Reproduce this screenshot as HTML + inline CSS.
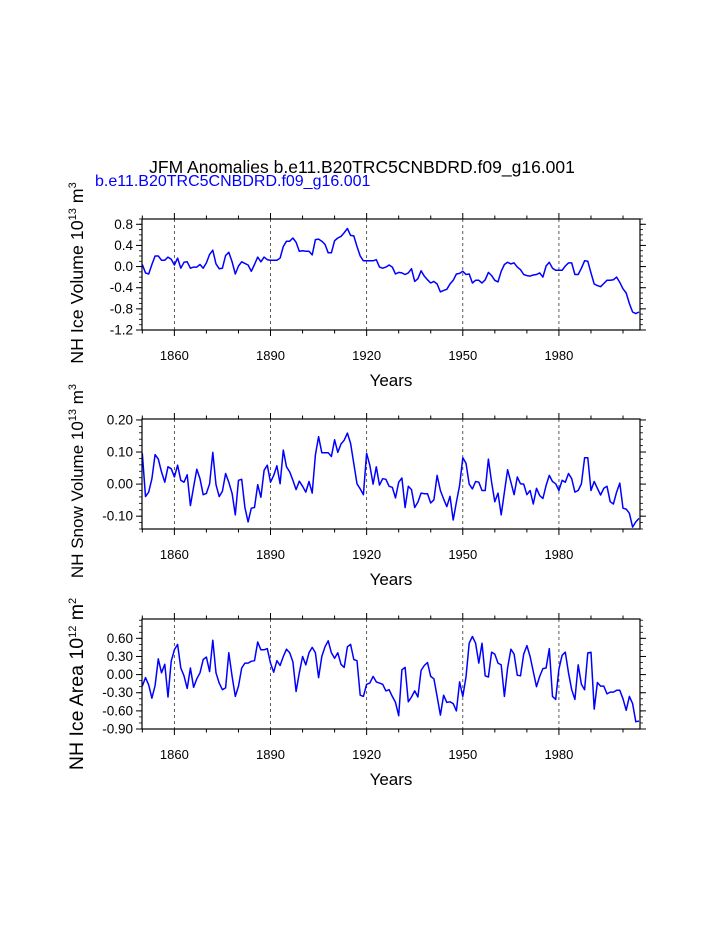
<!DOCTYPE html>
<html><head><meta charset="utf-8">
<style>
html,body{margin:0;padding:0;background:#fff;}
svg{display:block;font-family:"Liberation Sans",Arial,sans-serif;}
</style></head>
<body>
<svg id="chart" width="723" height="935" viewBox="0 0 723 935" xmlns="http://www.w3.org/2000/svg">
<text x="362" y="173" font-size="17.5" text-anchor="middle">JFM Anomalies b.e11.B20TRC5CNBDRD.f09_g16.001</text>
<text x="95" y="186" font-size="16" fill="#0000ff">b.e11.B20TRC5CNBDRD.f09_g16.001</text>
</svg>
<script>
const startYear = 1850;
const majorYears = [1860, 1890, 1920, 1950, 1980];
const iceVolume = [0.04,-0.12,-0.14,0.04,0.2,0.2,0.12,0.12,0.18,0.14,
0.03,0.16,-0.03,0.08,0.09,-0.03,-0.01,-0.01,0.04,-0.03,
0.07,0.23,0.31,0.05,-0.04,-0.03,0.21,0.27,0.09,-0.14,
0.01,0.09,0.06,0.03,-0.09,0.04,0.18,0.09,0.18,0.13,
0.12,0.12,0.12,0.16,0.38,0.48,0.48,0.54,0.46,0.29,
0.3,0.29,0.29,0.22,0.51,0.52,0.48,0.42,0.26,0.26,
0.49,0.54,0.57,0.64,0.72,0.59,0.58,0.38,0.2,0.11,
0.11,0.11,0.11,0.13,-0.01,-0.03,-0.01,0.03,-0.01,-0.14,
-0.11,-0.12,-0.15,-0.12,-0.04,-0.28,-0.23,-0.08,-0.18,-0.25,
-0.31,-0.28,-0.33,-0.48,-0.45,-0.43,-0.33,-0.26,-0.14,-0.13,
-0.09,-0.15,-0.14,-0.31,-0.26,-0.26,-0.31,-0.25,-0.11,-0.17,
-0.26,-0.29,-0.09,0.04,0.08,0.05,0.07,-0.01,-0.06,-0.15,
-0.17,-0.18,-0.16,-0.15,-0.12,-0.2,0.01,0.08,-0.03,-0.07,
-0.07,-0.07,0.01,0.07,0.07,-0.15,-0.15,-0.03,0.11,0.1,
-0.12,-0.33,-0.36,-0.38,-0.32,-0.26,-0.26,-0.25,-0.2,-0.3,
-0.42,-0.5,-0.7,-0.86,-0.89,-0.86];
const snowVolume = [0.096,-0.039,-0.025,0.017,0.092,0.078,0.038,0.006,0.054,0.048,
0.022,0.059,0.012,0.006,0.029,-0.067,-0.009,0.046,0.017,-0.033,
-0.029,0.001,0.099,-0.002,-0.039,-0.022,0.033,0.006,-0.029,-0.096,
0.012,0.015,-0.073,-0.118,-0.075,-0.073,-0.002,-0.041,0.043,0.059,
0.006,0.027,0.057,0.001,0.106,0.054,0.038,0.012,-0.017,0.009,
-0.007,-0.025,0.008,-0.028,0.091,0.148,0.098,0.098,0.098,0.086,
0.138,0.099,0.125,0.137,0.159,0.127,0.064,0.001,-0.015,-0.033,
0.096,0.059,0,0.054,-0.003,0.017,0.015,-0.007,-0.01,-0.043,
0.006,0.019,-0.073,-0.007,-0.017,-0.073,-0.056,-0.028,-0.03,-0.03,
-0.059,-0.049,0.027,-0.02,-0.046,-0.07,-0.038,-0.112,-0.056,-0.004,
0.082,0.065,0,-0.015,0.008,0.006,-0.02,-0.02,0.078,0.006,
-0.055,-0.028,-0.096,-0.025,0.045,0.006,-0.033,0.022,0.001,0,
-0.033,-0.02,-0.062,-0.013,-0.036,-0.045,-0.004,0.027,0.008,0.001,
-0.02,0.012,0.006,0.033,0.017,-0.025,-0.02,0.001,0.082,0.082,
-0.02,0.008,-0.013,-0.034,-0.013,-0.007,-0.055,-0.062,-0.025,0.003,
-0.075,-0.078,-0.091,-0.134,-0.118,-0.107];
const iceArea = [-0.19,-0.05,-0.17,-0.39,-0.18,0.26,0.03,0.17,-0.37,0.22,
0.41,0.5,0.11,-0.02,-0.23,0.11,-0.21,-0.07,0.03,0.25,
0.29,0.05,0.57,0.03,-0.14,-0.25,-0.22,0.36,-0.03,-0.36,
-0.19,0.11,0.19,0.19,0.22,0.23,0.54,0.41,0.41,0.43,
0.19,0.04,0.23,0.15,0.3,0.42,0.36,0.21,-0.28,0.03,
0.3,0.16,0.36,0.45,0.36,-0.05,0.3,0.46,0.56,0.36,
0.27,0.36,0.17,0.12,0.46,0.5,0.25,0.23,-0.34,-0.36,
-0.16,-0.14,-0.03,-0.12,-0.14,-0.16,-0.27,-0.25,-0.36,-0.46,
-0.68,0.08,0.12,-0.45,-0.37,-0.27,-0.37,0.07,0.15,0.2,
-0.03,-0.07,-0.36,-0.67,-0.34,-0.46,-0.45,-0.48,-0.6,-0.12,
-0.36,-0.04,0.52,0.63,0.52,0.19,0.52,-0.02,-0.04,0.37,
0.34,0.19,0.16,-0.36,0.11,0.42,0.34,-0.01,-0.02,0.34,
0.48,0.3,0.05,-0.2,-0.03,0.1,0.11,0.43,-0.36,-0.41,
0.09,0.32,0.37,0.03,-0.25,-0.41,0.16,-0.16,-0.25,0.36,
0.37,-0.57,-0.13,-0.19,-0.19,-0.32,-0.29,-0.29,-0.26,-0.26,
-0.4,-0.59,-0.36,-0.48,-0.78,-0.77];
const iceVolumeTicks = [0.8,0.4,0.0,-0.4,-0.8,-1.2];
const iceVolumeTickLabels = ["0.8","0.4","0.0","-0.4","-0.8","-1.2"];
const snowVolumeTicks = [0.2,0.1,0.0,-0.1];
const snowVolumeTickLabels = ["0.20","0.10","0.00","-0.10"];
const iceAreaTicks = [0.6,0.3,0.0,-0.3,-0.6,-0.9];
const iceAreaTickLabels = ["0.60","0.30","0.00","-0.30","-0.60","-0.90"];

const NS = "http://www.w3.org/2000/svg";
const svg = document.getElementById('chart');
function mk(tag, attrs, parent){const e=document.createElementNS(NS,tag);for(const k in attrs)e.setAttribute(k,attrs[k]);(parent||svg).appendChild(e);return e;}

const X0=142, X1=640, YR0=1849.9, YR1=2005.3;
function xs(yr){return X0+(yr-YR0)/(YR1-YR0)*(X1-X0);}

function panel(name, top, bot, vmax, vmin, data, ticks, tickLabels, minorStep, titleParts, titleCy, titleSize){
  const g=mk('g',{});
  
  
  const ys=v=>top+(vmax-v)/(vmax-vmin)*(bot-top);
  majorYears.forEach(yr=>{
    const l=mk('line',{x1:xs(yr),x2:xs(yr),y1:top,y2:bot,stroke:'#333','stroke-width':0.8,'stroke-dasharray':'3,3'},g);
    
    
  });
  for(let yr=1850; yr<=2005; yr+=10){
    const maj=majorYears.includes(yr);
    const len=maj?6:3.5;
    mk('line',{x1:xs(yr),x2:xs(yr),y1:bot,y2:bot+len,stroke:'#000','stroke-width':1},g);
    mk('line',{x1:xs(yr),x2:xs(yr),y1:top,y2:top-len,stroke:'#000','stroke-width':1},g);
  }
  majorYears.forEach(yr=>{
    const t=mk('text',{x:xs(yr),y:bot+30,'font-size':13,'text-anchor':'middle'},g);
    t.textContent=yr;
    
    
  });
  const n=Math.round((vmax-vmin)/minorStep);
  for(let i=0;i<=n+1;i++){
    const v=Math.ceil(vmin/minorStep)*minorStep+i*minorStep;
    if(v>vmax+1e-9) break;
    mk('line',{x1:X0,x2:X0-3,y1:ys(v),y2:ys(v),stroke:'#000','stroke-width':0.8},g);
    mk('line',{x1:X1,x2:X1+3,y1:ys(v),y2:ys(v),stroke:'#000','stroke-width':0.8},g);
  }
  ticks.forEach((v,i)=>{
    mk('line',{x1:X0,x2:X0-6,y1:ys(v),y2:ys(v),stroke:'#000','stroke-width':1},g);
    mk('line',{x1:X1,x2:X1+6,y1:ys(v),y2:ys(v),stroke:'#000','stroke-width':1},g);
    const t=mk('text',{x:X0-9,y:ys(v)+4.5,'font-size':13.5,'text-anchor':'end'},g);
    t.textContent=tickLabels[i];
    
    
  });
  const pts=data.map((v,i)=>xs(startYear+i).toFixed(1)+','+ys(v).toFixed(1)).join(' ');
  const pl=mk('polyline',{points:pts,fill:'none',stroke:'#0000ff','stroke-width':1.5,'stroke-linejoin':'round'},g);
  
  
  const fr=mk('rect',{x:X0,y:top,width:X1-X0,height:bot-top,fill:'none',stroke:'#000','stroke-width':1.2},g);
  
  
  const xt=mk('text',{x:391,y:bot+56,'font-size':17,'text-anchor':'middle'},g);
  xt.textContent='Years';
  
  
  const yt=mk('text',{x:0,y:0,'font-size':titleSize,'text-anchor':'middle',transform:'translate(83,'+titleCy+') rotate(-90)'},g);
  
  
  const a=document.createElementNS(NS,'tspan');a.textContent=titleParts[0];yt.appendChild(a);
  const b=document.createElementNS(NS,'tspan');b.setAttribute('dy','-7');b.setAttribute('font-size','11');b.textContent=titleParts[1];yt.appendChild(b);
  const c=document.createElementNS(NS,'tspan');c.setAttribute('dy','7');c.textContent=' m';yt.appendChild(c);
  const d=document.createElementNS(NS,'tspan');d.setAttribute('dy','-7');d.setAttribute('font-size','11');d.textContent=titleParts[2];yt.appendChild(d);
}
panel('ice-volume',219,330,0.9,-1.2,iceVolume,iceVolumeTicks,iceVolumeTickLabels,0.1,['NH Ice Volume 10','13','3'],273,17.8);
panel('snow-volume',419,529,0.203,-0.14,snowVolume,snowVolumeTicks,snowVolumeTickLabels,0.02,['NH Snow Volume 10','13','3'],481,17);
panel('ice-area',619,729,0.92,-0.9,iceArea,iceAreaTicks,iceAreaTickLabels,0.1,['NH Ice Area 10','12','2'],684,19.5);
</script>
</body></html>
